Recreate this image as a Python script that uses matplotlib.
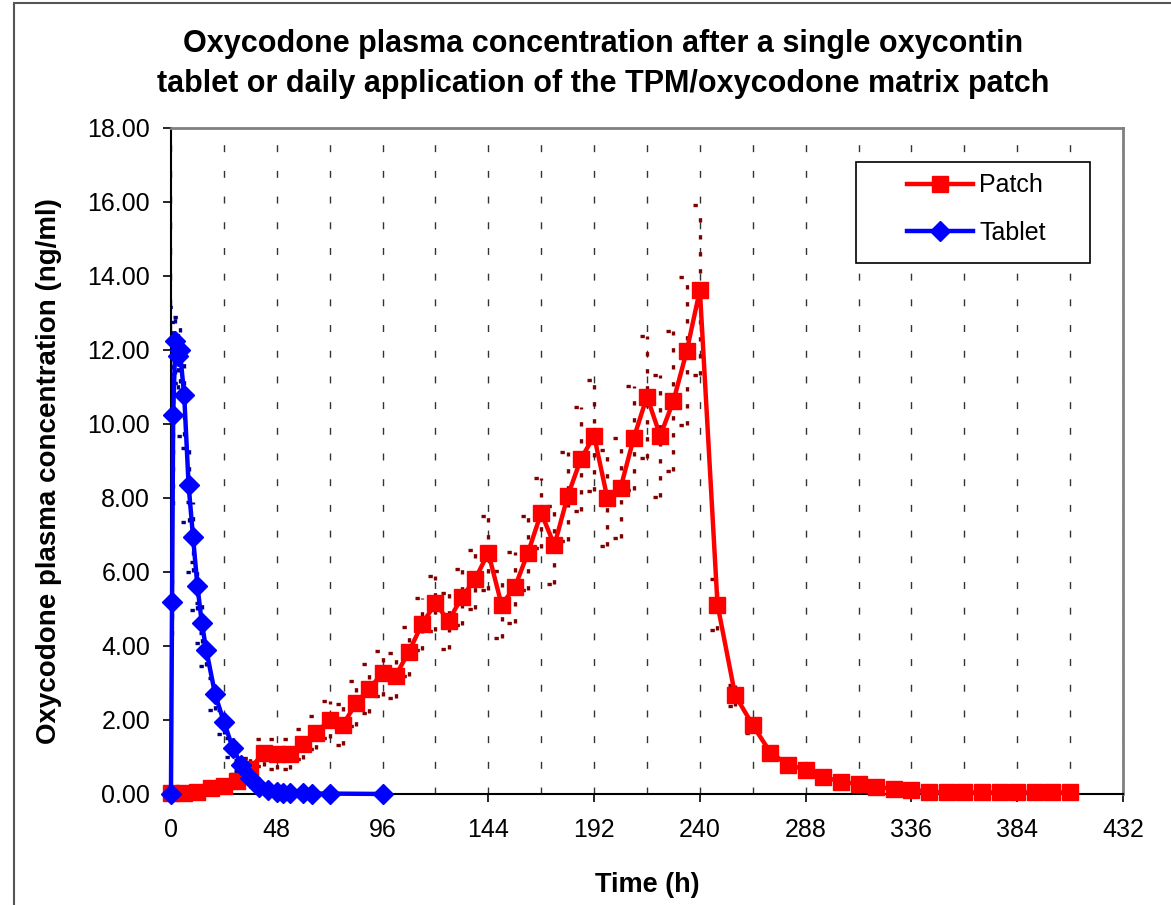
import matplotlib.pyplot as plt
from matplotlib.patches import Rectangle
from matplotlib.ticker import MultipleLocator, FormatStrFormatter

plt.rcParams['font.family'] = ['Liberation Sans', 'DejaVu Sans']

# patch: daily application, sampled every 6 h, then every 8 h after removal
patch_t = [0, 6, 12, 18, 24, 30, 36, 42, 48, 54, 60, 66, 72, 78, 84, 90, 96,
           102, 108, 114, 120, 126, 132, 138, 144, 150, 156, 162, 168, 174,
           180, 186, 192, 198, 204, 210, 216, 222, 228, 234, 240,
           248, 256, 264, 272, 280, 288, 296, 304, 312, 320, 328, 336, 344,
           352, 360, 368, 376, 384, 392, 400, 408]
patch_c = [0.02, 0.02, 0.05, 0.15, 0.22, 0.35, 0.68, 1.12, 1.08, 1.08, 1.35,
           1.66, 2.0, 1.87, 2.45, 2.85, 3.26, 3.2, 3.85, 4.6, 5.15, 4.68, 5.32,
           5.8, 6.52, 5.12, 5.58, 6.52, 7.6, 6.72, 8.05, 9.05, 9.68, 8.0, 8.27,
           9.62, 10.74, 9.68, 10.62, 11.96, 13.62,
           5.12, 2.67, 1.86, 1.12, 0.79, 0.66, 0.46, 0.33, 0.27, 0.19, 0.14,
           0.12, 0.06, 0.04, 0.04, 0.04, 0.04, 0.04, 0.04, 0.04, 0.04]
patch_sd = [0, 0.01, 0.03, 0.1, 0.12, 0.2, 0.3, 0.37, 0.4, 0.4, 0.4, 0.45,
            0.5, 0.55, 0.6, 0.65, 0.6, 0.6, 0.65, 0.7, 0.75, 0.75, 0.75, 0.8,
            1.0, 0.9, 0.95, 1.0, 0.95, 1.05, 1.2, 1.4, 1.5, 1.3, 1.35, 1.4,
            1.65, 1.65, 1.9, 2.0, 2.3,
            0.7, 0.28, 0.2, 0.15, 0.1, 0.1, 0.08, 0.06, 0.05, 0.04, 0.03,
            0.02, 0.01, 0.01, 0.01, 0.01, 0.01, 0.01, 0.01, 0.01, 0.01]

# single oxycontin tablet
tablet_t = [0, 0.5, 1, 2, 3, 4, 6, 8, 10, 12, 14, 16, 20, 24, 28, 32, 36, 40,
            44, 48, 51, 54, 60, 64, 72, 96]
tablet_c = [0.0, 5.2, 10.25, 12.25, 11.85, 12.0, 10.78, 8.35, 6.95, 5.62,
            4.62, 3.9, 2.7, 1.95, 1.25, 0.78, 0.42, 0.2, 0.1, 0.05, 0.03,
            0.02, 0.02, 0.01, 0.01, 0.0]
tablet_sd = [0, 0.9, 2.45, 0.9, 0.9, 0.9, 1.1, 1.0, 0.95, 0.65, 0.55, 0.45,
             0.43, 0.33, 0.25, 0.15, 0.1, 0.05, 0.03, 0.02, 0.01, 0.01, 0.01,
             0, 0, 0]

title = ('Oxycodone plasma concentration after a single oxycontin\n'
         'tablet or daily application of the TPM/oxycodone matrix patch')


def dotted_errors(ax, t, c, sd, color):
    lo = [v - s for v, s in zip(c, sd)]
    hi = [v + s for v, s in zip(c, sd)]
    dots = (0, (1.3, 3.8))
    ax.vlines(t, lo, hi, colors=color, linestyles=[dots], linewidth=2.4, zorder=2)
    for y in (lo, hi):
        ax.hlines(y, [x - 3.3 for x in t], [x + 3.3 for x in t], colors=color,
                  linestyles=[dots], linewidth=2.4, zorder=2)


fig = plt.figure(figsize=(11.71, 9.05), dpi=100)
ax = fig.add_axes([0.146, 0.1227, 0.813, 0.7359])

dotted_errors(ax, patch_t, patch_c, patch_sd, '#800000')
dotted_errors(ax, tablet_t, tablet_c, tablet_sd, '#000080')

ax.plot(patch_t, patch_c, color='#ff0000', lw=3.2, marker='s', ms=11,
        label='Patch', zorder=4, clip_on=False)
ax.plot(tablet_t, tablet_c, color='#0000ff', lw=3.2, marker='D', ms=10,
        label='Tablet', zorder=5, clip_on=False)

ax.set_xlim(0, 432)
ax.set_ylim(0, 18)
ax.xaxis.set_major_locator(MultipleLocator(48))
ax.xaxis.set_minor_locator(MultipleLocator(24))
ax.yaxis.set_major_locator(MultipleLocator(2))
ax.yaxis.set_major_formatter(FormatStrFormatter('%.2f'))
ax.tick_params(which='major', direction='out', length=6, width=1.2,
               labelsize=18, colors='black')
ax.tick_params(axis='x', which='major', pad=11)
ax.tick_params(axis='y', which='major', pad=9)
ax.tick_params(which='minor', length=0)
ax.grid(True, which='both', axis='x', color='#333333', lw=1,
        linestyle=(0, (5, 13.5)))

for side in ('left', 'bottom'):
    ax.spines[side].set_color('black')
    ax.spines[side].set_linewidth(1.5)
for side in ('top', 'right'):
    ax.spines[side].set_color('#808080')
    ax.spines[side].set_linewidth(2)

ax.set_xlabel('Time (h)', fontsize=19.5, fontweight='bold', labelpad=22)
ax.set_ylabel('Oxycodone plasma concentration (ng/ml)', fontsize=20,
              fontweight='bold', labelpad=18)
ax.yaxis.label.set_y(0.485)

# legend: entries without frame, box drawn separately to match its padding
leg = ax.legend(loc='upper left', bbox_to_anchor=(0.773, 0.932), fontsize=18,
                frameon=False, handlelength=2.64, borderpad=0,
                borderaxespad=0, labelspacing=0.95, handletextpad=0.25)
ax.add_patch(Rectangle((0.7195, 0.797), 0.2455, 0.152, transform=ax.transAxes,
                       facecolor='white', edgecolor='black', lw=1.2, zorder=6))
leg.set_zorder(7)

fig.text(0.515, 1 - 64 / 905, title, ha='center', va='center', fontsize=22,
         fontweight='bold', linespacing=1.4)

# outer chart border, runs off the right and bottom edges
fig.patches.append(Rectangle((14 / 1171, -0.1), 1.2, 1.1 - 3 / 905,
                             transform=fig.transFigure, fill=False,
                             edgecolor='#555555', lw=1.5))

fig.savefig('out.png', dpi=100)
